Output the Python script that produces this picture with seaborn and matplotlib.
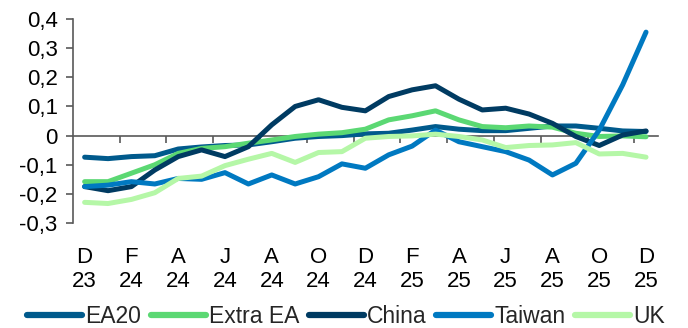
import matplotlib
matplotlib.use("Agg")
import matplotlib.pyplot as plt
import numpy as np
import pandas as pd
import seaborn as sns

months = ["D\n23", "J\n24", "F\n24", "M\n24", "A\n24", "M\n24", "J\n24", "J\n24",
          "A\n24", "S\n24", "O\n24", "N\n24", "D\n24", "J\n25", "F\n25", "M\n25",
          "A\n25", "M\n25", "J\n25", "J\n25", "A\n25", "S\n25", "O\n25", "N\n25",
          "D\n25"]

ea20 = [-0.074, -0.079, -0.072, -0.069, -0.046, -0.039, -0.034, -0.032, -0.021,
        -0.009, -0.003, 0.000, 0.006, 0.008, 0.019, 0.031, 0.022, 0.017, 0.017,
        0.025, 0.033, 0.033, 0.025, 0.016, 0.014]
extra_ea = [-0.158, -0.158, -0.129, -0.100, -0.061, -0.044, -0.038, -0.026, -0.015,
            -0.003, 0.005, 0.010, 0.022, 0.054, 0.068, 0.085, 0.054, 0.031, 0.027,
            0.033, 0.029, 0.008, -0.003, -0.001, -0.004]
china = [-0.175, -0.189, -0.175, -0.118, -0.072, -0.049, -0.072, -0.038, 0.037,
         0.100, 0.123, 0.097, 0.085, 0.134, 0.157, 0.171, 0.125, 0.088, 0.094,
         0.074, 0.042, -0.003, -0.034, 0.002, 0.016]
taiwan = [-0.175, -0.170, -0.158, -0.166, -0.147, -0.150, -0.127, -0.166, -0.135,
          -0.166, -0.141, -0.097, -0.112, -0.066, -0.036, 0.019, -0.021, -0.038,
          -0.055, -0.084, -0.135, -0.095, 0.019, 0.174, 0.355]
uk = [-0.229, -0.233, -0.219, -0.196, -0.147, -0.139, -0.103, -0.081, -0.061,
      -0.092, -0.058, -0.055, -0.009, -0.003, -0.001, 0.005, -0.003, -0.015,
      -0.041, -0.034, -0.032, -0.024, -0.063, -0.061, -0.074]

series = {"EA20": ea20, "Extra EA": extra_ea, "China": china,
          "Taiwan": taiwan, "UK": uk}
colors = ["#005a8c", "#5bd873", "#003b62", "#0079c1", "#b5f7a7"]

rows = []
for name, vals in series.items():
    for i, v in enumerate(vals):
        rows.append({"t": i, "value": v, "series": name})
df = pd.DataFrame(rows)

sns.set_theme(style="white")
plt.rcParams["font.family"] = ["Liberation Sans", "DejaVu Sans"]
fs = 16

fig = plt.figure(figsize=(6.88, 3.28), dpi=100)
ax = fig.add_axes([0.106, 0.320, 0.850, 0.622])

sns.lineplot(data=df, x="t", y="value", hue="series", hue_order=list(series),
             palette=colors, linewidth=3.6, ax=ax, legend=True,
             solid_capstyle="round")

ymin, ymax = -0.3, 0.4
ax.set_xlim(-0.5, len(months) - 0.5)
ax.set_ylim(ymin, ymax)
ax.set_xlabel("")
ax.set_ylabel("")

grey = "#595959"
for s in ["top", "right", "bottom"]:
    ax.spines[s].set_visible(False)
ax.spines["left"].set_color(grey)
ax.spines["left"].set_linewidth(1.2)

yt = np.round(np.arange(ymin, ymax + 0.001, 0.1), 1)
ax.set_yticks(yt)
ax.set_yticklabels([("0" if v == 0 else f"{v:.1f}".replace(".", ",")) for v in yt],
                   fontsize=fs, color="black")
ax.tick_params(axis="y", direction="out", length=5, width=1.2, color=grey,
               pad=6, left=True)

ax.set_xticks(np.arange(0, len(months), 2))
ax.set_xticklabels(months[::2], fontsize=fs, color="black", linespacing=1.2)
ax.tick_params(axis="x", length=0, pad=17)

# zero line with category boundary ticks
zero_pos = (0 - ymin) / (ymax - ymin)
sec = ax.secondary_xaxis(zero_pos)
sec.spines["bottom"].set_color(grey)
sec.spines["bottom"].set_linewidth(1.2)
sec.set_xticks(np.arange(1.5, len(months) - 1, 2))
sec.tick_params(axis="x", direction="out", length=5, width=1.2, color=grey,
                labelbottom=False)

handles, labels = ax.get_legend_handles_labels()
ax.get_legend().remove()
fig.legend(handles, labels, loc="center", bbox_to_anchor=(0.503, 0.036),
           ncol=5, frameon=False, fontsize=16.5,
           handlelength=2.4, handletextpad=0.13, columnspacing=0.42,
           borderaxespad=0, borderpad=0)
for line in fig.legends[0].get_lines():
    line.set_linewidth(4.5)
    line.set_solid_capstyle("round")

fig.savefig("out.png", dpi=100)
